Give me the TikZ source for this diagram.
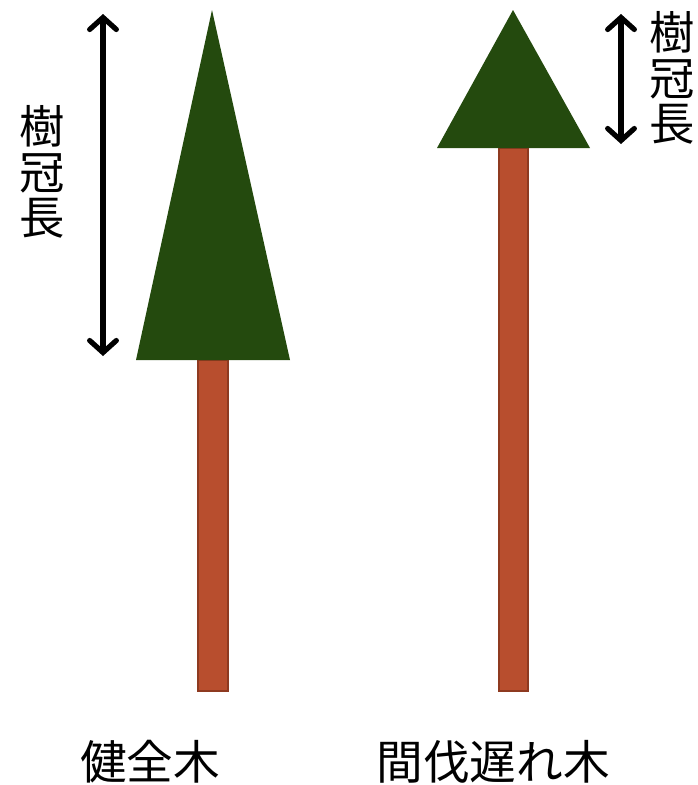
\documentclass[tikz,border=0pt]{standalone}
\usepackage{fontspec}
\setmainfont{Noto Sans CJK JP}
\usetikzlibrary{arrows.meta}
\definecolor{leaf}{HTML}{244A0E}
\definecolor{bark}{HTML}{B84E2E}
\definecolor{barkedge}{HTML}{8E3A20}
\tikzset{
  crown/.style={fill=leaf,draw=none},
  trunk/.style={fill=bark,draw=barkedge,line width=2pt},
  lenarrow/.style={{Straight Barb[length=9pt,width=20pt,line cap=round]}-{Straight Barb[length=9pt,width=20pt,line cap=round]},line width=3.9pt,line cap=round},
  lbl/.style={font=\fontsize{35}{36}\selectfont,inner sep=0pt,align=center},
  vlbl/.style={font=\fontsize{34}{34}\selectfont,inner sep=0pt,align=center},
}
\begin{document}
\begin{tikzpicture}[x=0.75pt,y=-0.75pt]
  \useasboundingbox (0,0) rectangle (698,785);
  % healthy tree
  \draw[trunk] (198,360) rectangle (228,691);
  \fill[crown] (212,10) -- (290,360) -- (136,360) -- cycle;
  % tree left too long without thinning
  \draw[trunk] (499,148) rectangle (528,691);
  \fill[crown] (513,10) -- (590,148) -- (437,148) -- cycle;
  % crown length markers
  \coordinate (top1) at (103,14);
  \coordinate (base1) at (103,356);
  \coordinate (top2) at (621,14);
  \coordinate (base2) at (621,144);
  \draw[lenarrow] (top1) -- (base1);
  \draw[lenarrow] (top2) -- (base2);
  \node[vlbl] (len1) at (42,172) {樹\\冠\\長};
  \node[vlbl] (len2) at (672,78) {樹\\冠\\長};
  % captions
  \node[lbl] (healthy) at (150,762) {健全木};
  \node[lbl] (thin) at (493,762) {間伐遅れ木};
\end{tikzpicture}
\end{document}
